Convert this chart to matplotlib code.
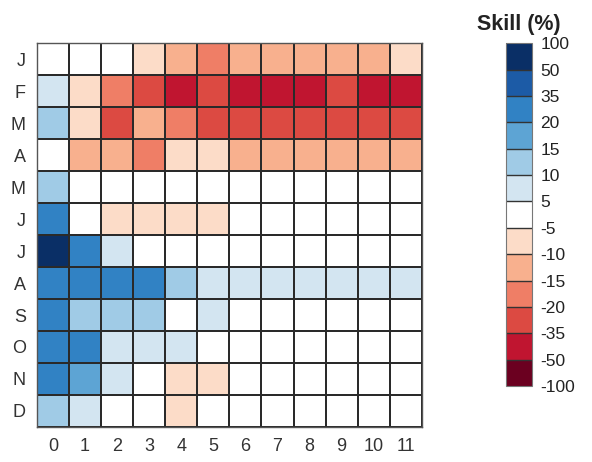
import numpy as np
import matplotlib
matplotlib.use("Agg")
import matplotlib.pyplot as plt
from matplotlib.colors import ListedColormap, BoundaryNorm

plt.rcParams['font.family'] = ['Liberation Sans', 'DejaVu Sans']

months = ['J', 'F', 'M', 'A', 'M', 'J', 'J', 'A', 'S', 'O', 'N', 'D']
leads = [str(i) for i in range(12)]

# Skill (%) per initial month (rows) and lead (columns)
row_jan = [0, 0, 0, -7, -12, -17, -12, -12, -12, -12, -12, -7]
row_feb = [7, -7, -17, -28, -42, -28, -42, -42, -42, -28, -42, -42]
row_mar = [12, -7, -28, -12, -17, -28, -28, -28, -28, -28, -28, -28]
row_apr = [0, -12, -12, -17, -7, -7, -12, -12, -12, -12, -12, -12]
row_may = [12, 0, 0, 0, 0, 0, 0, 0, 0, 0, 0, 0]
row_jun = [27, 0, -7, -7, -7, -7, 0, 0, 0, 0, 0, 0]
row_jul = [60, 27, 7, 0, 0, 0, 0, 0, 0, 0, 0, 0]
row_aug = [27, 27, 27, 27, 12, 7, 7, 7, 7, 7, 7, 7]
row_sep = [27, 12, 12, 12, 0, 7, 0, 0, 0, 0, 0, 0]
row_oct = [27, 27, 7, 7, 7, 0, 0, 0, 0, 0, 0, 0]
row_nov = [27, 17, 7, 0, -7, -7, 0, 0, 0, 0, 0, 0]
row_dec = [12, 7, 0, 0, -7, 0, 0, 0, 0, 0, 0, 0]

levels = [-100, -50, -35, -20, -15, -10, -5, 5, 10, 15, 20, 35, 50, 100]
colors = ['#6b0020', '#c01530', '#dc4a42', '#ef7e66', '#f8b08e', '#fcdcc8',
          '#ffffff',
          '#d3e5f1', '#a0cbe6', '#5da4d4', '#3182c4', '#1c5ba6', '#0a2f66']

skill = np.array([row_jan, row_feb, row_mar, row_apr, row_may, row_jun,
                  row_jul, row_aug, row_sep, row_oct, row_nov, row_dec], dtype=float)

cmap = ListedColormap(colors)
norm = BoundaryNorm(levels, cmap.N)

fig = plt.figure(figsize=(5.92, 4.62), dpi=100)
ax = fig.add_axes([0.0625, 0.0758, 0.650, 0.831])
mesh = ax.pcolormesh(skill, cmap=cmap, norm=norm, edgecolors='#2a2a2a', linewidth=1.1)
ax.set_xlim(0, 12)
ax.set_ylim(12, 0)
ax.set_xticks(np.arange(12) + 0.5)
ax.set_xticklabels(leads)
ax.set_yticks(np.arange(12) + 0.5)
ax.set_yticklabels(months)
ax.tick_params(length=0, labelsize=13, colors='#333333', pad=8)
for s in ax.spines.values():
    s.set_color('#555555')
    s.set_linewidth(1.0)

cax = fig.add_axes([0.8547, 0.1645, 0.0439, 0.742])
cb = fig.colorbar(mesh, cax=cax, boundaries=levels, ticks=levels, spacing='uniform', drawedges=True)
cb.ax.tick_params(length=0, labelsize=12.5, colors='#222222', pad=6)
cb.set_ticklabels([str(v) for v in levels])
cb.outline.set_edgecolor('#777777')
cb.outline.set_linewidth(0.8)
cb.dividers.set_color('#333333')
cb.dividers.set_linewidth(1.0)
fig.text(0.877, 0.947, 'Skill (%)', ha='center', va='center', fontsize=15.5, fontweight='bold', color='#222222')

fig.savefig('out.png', dpi=100)
